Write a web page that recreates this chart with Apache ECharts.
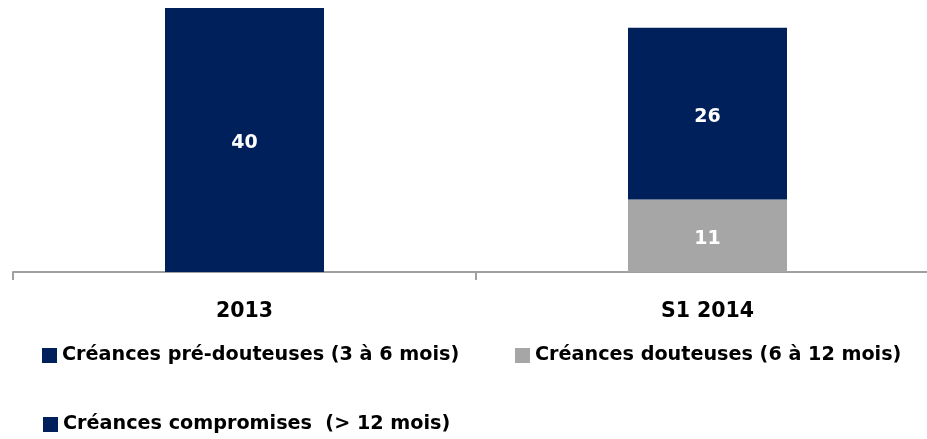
<!DOCTYPE html>
<html>
<head>
<meta charset="utf-8">
<script src="https://cdn.jsdelivr.net/npm/echarts@6/dist/echarts.min.js"></script>
<style>
html,body{margin:0;padding:0;background:#fff;overflow:hidden;width:927px;height:439px;}
#c{width:940px;height:439px;}
</style>
</head>
<body>
<div id="c"></div>
<script>
const categories = ['2013', 'S1 2014'];
const seriesNames = ['Créances pré-douteuses (3 à 6 mois)', 'Créances douteuses (6 à 12 mois)', 'Créances compromises  (> 12 mois)'];
const preDouteuses = [null, null];
const douteuses = [null, 11];
const compromises = [40, 26];

const NAVY = '#00205B';
const GRAY = '#A6A6A6';
const FONT = 'DejaVu Sans';

const chart = echarts.init(document.getElementById('c'));
const label = {
  show: true, position: 'inside', color: '#fff', fontFamily: FONT,
  fontWeight: 'bold', fontSize: 19, offset: [0, 3]
};
const legendBase = {
  orient: 'horizontal', itemWidth: 15, itemHeight: 15, itemGap: 4, padding: 0,
  icon: 'rect',
  textStyle: { fontFamily: FONT, fontWeight: 'bold', fontSize: 19.2, color: '#000' }
};
chart.setOption({
  animation: false,
  grid: { left: 13, width: 926, top: 8, bottom: 167, containLabel: false },
  xAxis: {
    type: 'category', data: categories,
    axisLine: { lineStyle: { color: '#A0A0A0', width: 2 } },
    axisTick: { show: true, length: 8, lineStyle: { color: '#A0A0A0', width: 2 } },
    axisLabel: { fontFamily: FONT, fontWeight: 'bold', fontSize: 20.5, color: '#000', margin: 29 }
  },
  yAxis: { type: 'value', min: 0, max: 40, show: false, splitLine: { show: false } },
  legend: [
    Object.assign({}, legendBase, { left: 42, top: 346, data: [seriesNames[0]] }),
    Object.assign({}, legendBase, { left: 515, top: 346, data: [seriesNames[1]] }),
    Object.assign({}, legendBase, { left: 43, top: 415, data: [seriesNames[2]] })
  ],
  series: [
    { name: seriesNames[0], type: 'bar', stack: 's', data: preDouteuses, barWidth: 159, itemStyle: { color: NAVY }, label },
    { name: seriesNames[1], type: 'bar', stack: 's', data: douteuses, barWidth: 159, itemStyle: { color: GRAY }, label },
    { name: seriesNames[2], type: 'bar', stack: 's', data: compromises, barWidth: 159, itemStyle: { color: NAVY }, label }
  ]
});
</script>
</body>
</html>
